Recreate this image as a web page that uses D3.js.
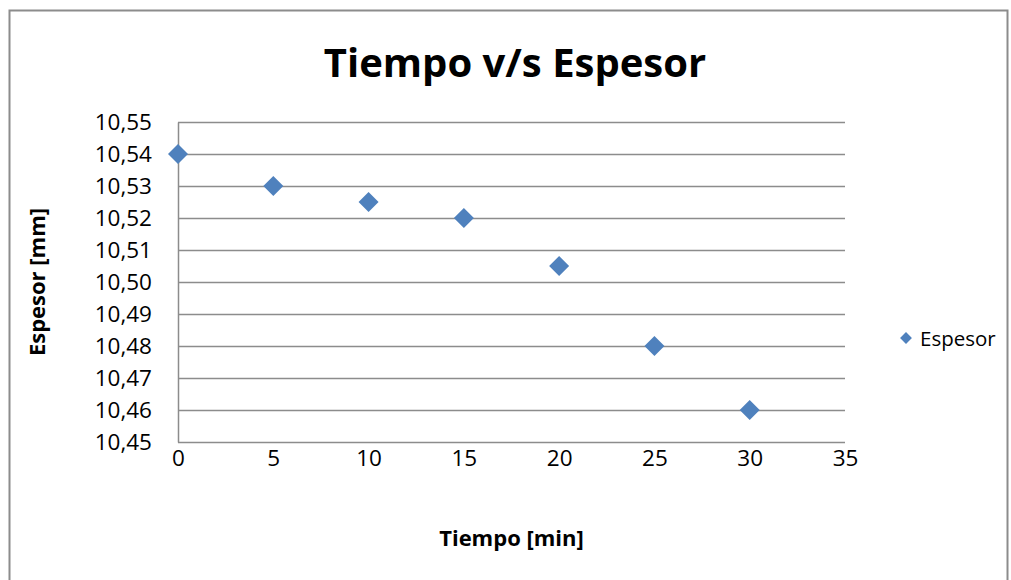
<!DOCTYPE html>
<html>
<head>
<meta charset="utf-8">
<script src="https://cdn.jsdelivr.net/npm/d3@7"></script>
<style>
  body { margin: 0; background: #fff; }
  svg text { font-family: "Open Sans", "Liberation Sans", sans-serif; fill: #000; }
</style>
</head>
<body>
<div id="chart"></div>
<script>
const tiempo = [0, 5, 10, 15, 20, 25, 30];
const espesor = [10.54, 10.53, 10.525, 10.52, 10.505, 10.48, 10.46];
const xTicks = [0, 5, 10, 15, 20, 25, 30, 35];
const yTicks = [10.45, 10.46, 10.47, 10.48, 10.49, 10.50, 10.51, 10.52, 10.53, 10.54, 10.55];

const width = 1011, height = 580,
  margin = { top: 122, right: 166, bottom: 138, left: 178 },
  chartWidth = width - margin.left - margin.right,
  chartHeight = height - margin.top - margin.bottom;

const fmt = d => d3.format(".2f")(d).replace(".", ",");

const svg = d3.select("#chart").append("svg")
  .attr("width", width).attr("height", height);

// outer frame
svg.append("rect")
  .attr("x", 9.5).attr("y", 10.5)
  .attr("width", 998).attr("height", 580)
  .attr("fill", "#fff").attr("stroke", "#8c8c8c").attr("stroke-width", 2);

svg.append("text")
  .attr("x", 515).attr("y", 77)
  .attr("text-anchor", "middle")
  .style("font-size", "40px").style("font-weight", "bold")
  .text("Tiempo v/s Espesor");

const xScale = d3.scaleLinear().domain([0, 35]).range([0, chartWidth]);
const yScale = d3.scaleLinear().domain([10.45, 10.55]).range([chartHeight, 0]);

const chart = svg.append("g")
  .attr("transform", `translate(${margin.left}, ${margin.top})`);

// gridlines
chart.append("g")
  .call(d3.axisLeft(yScale).tickValues(yTicks).tickSize(-chartWidth).tickFormat(""))
  .call(g => g.select(".domain").remove())
  .selectAll("line").attr("stroke", "#8c8c8c").attr("stroke-width", 1.5);

// y axis
chart.append("g")
  .call(d3.axisLeft(yScale).tickValues(yTicks).tickSize(0).tickPadding(26).tickFormat(fmt))
  .call(g => g.select(".domain").attr("stroke", "#8c8c8c").attr("stroke-width", 1.5))
  .selectAll("text").style("font-size", "22.5px");

// x axis
chart.append("g")
  .attr("transform", `translate(0, ${chartHeight})`)
  .call(d3.axisBottom(xScale).tickValues(xTicks).tickSize(0).tickPadding(8))
  .call(g => g.select(".domain").remove())
  .selectAll("text").style("font-size", "22.5px");

svg.append("text")
  .attr("x", margin.left + chartWidth / 2).attr("y", 546)
  .attr("text-anchor", "middle")
  .style("font-size", "22px").style("font-weight", "bold")
  .text("Tiempo [min]");

svg.append("text")
  .attr("transform", `translate(45, ${margin.top + chartHeight / 2}) rotate(-90)`)
  .attr("text-anchor", "middle")
  .style("font-size", "22px").style("font-weight", "bold")
  .text("Espesor [mm]");

chart.selectAll(".pt")
  .data(tiempo.map((t, i) => ({ t, v: espesor[i] })))
  .join("path")
  .attr("class", "pt")
  .attr("transform", d => `translate(${xScale(d.t)}, ${yScale(d.v)}) rotate(45)`)
  .attr("d", d3.symbol().type(d3.symbolSquare).size(200))
  .attr("fill", "#4f81bd");

// legend
svg.append("path")
  .attr("transform", "translate(906, 338) rotate(45)")
  .attr("d", d3.symbol().type(d3.symbolSquare).size(70))
  .attr("fill", "#4f81bd");
svg.append("text")
  .attr("x", 920).attr("y", 346)
  .style("font-size", "20.5px")
  .text("Espesor");
</script>
</body>
</html>
